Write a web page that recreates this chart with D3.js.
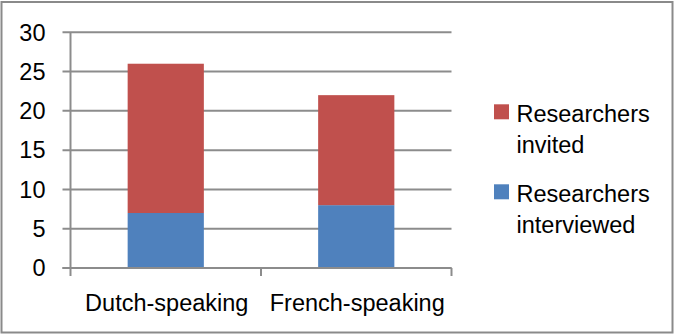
<!DOCTYPE html>
<html>
<head>
<meta charset="utf-8">
<script src="https://cdn.jsdelivr.net/npm/d3@7"></script>
<style>
  html, body { margin: 0; padding: 0; background: #fff; }
  svg { display: block; }
  text { font-family: "Liberation Sans", Arial, sans-serif; fill: #000; }
</style>
</head>
<body>
<svg id="chart" width="674" height="334"></svg>
<script>
// ---- data ----
const categories = ["Dutch-speaking", "French-speaking"];
const interviewed = [7, 8];
const invitedExtra = [19, 14];   // stacked on top of interviewed (totals 26, 22)
const seriesNames = ["Researchers interviewed", "Researchers invited"];
const seriesColors = ["#4F81BD", "#C0504D"];
const yTicks = [0, 5, 10, 15, 20, 25, 30];

// ---- layout ----
const svg = d3.select("#chart");
const plot = { left: 70.5, right: 451.5, top: 32.3, bottom: 268 };
const fontSize = 23.5;
const gridColor = "#8c8c8c";

// outer border
svg.append("rect")
  .attr("x", 1.5).attr("y", 2).attr("width", 671).attr("height", 330.5)
  .attr("fill", "#fff").attr("stroke", "#8a8a8a").attr("stroke-width", 2);

const x = d3.scaleBand()
  .domain(categories)
  .range([plot.left, plot.right])
  .paddingInner(0.6).paddingOuter(0.3);
const xCat = d3.scaleBand().domain(categories).range([plot.left, plot.right]);

const y = d3.scaleLinear().domain([0, 30]).range([plot.bottom, plot.top]);

// gridlines
svg.append("g").selectAll("line").data(yTicks).join("line")
  .attr("x1", plot.left - 8).attr("x2", plot.right)
  .attr("y1", d => y(d)).attr("y2", d => y(d))
  .attr("stroke", gridColor).attr("stroke-width", 2);

// vertical axis line
svg.append("line")
  .attr("x1", plot.left).attr("x2", plot.left)
  .attr("y1", y(30)).attr("y2", y(0))
  .attr("stroke", gridColor).attr("stroke-width", 2);

// category boundary ticks
const bounds = [xCat(categories[0]), xCat(categories[1]), xCat(categories[1]) + xCat.bandwidth()];
svg.append("g").selectAll("line").data(bounds).join("line")
  .attr("x1", d => d).attr("x2", d => d)
  .attr("y1", y(0)).attr("y2", y(0) + 8)
  .attr("stroke", gridColor).attr("stroke-width", 2);

// y tick labels
svg.append("g").selectAll("text").data(yTicks).join("text")
  .attr("x", 45.5).attr("y", d => y(d) + 8.3)
  .attr("text-anchor", "end")
  .attr("font-size", fontSize)
  .text(d => d);

// stacked bars
const rows = categories.map((c, i) => ({ cat: c, interviewed: interviewed[i], invited: invitedExtra[i] }));
const stack = d3.stack().keys(["interviewed", "invited"])(rows);
svg.append("g").selectAll("g").data(stack).join("g")
  .attr("fill", (d, i) => seriesColors[i])
  .selectAll("rect").data(d => d).join("rect")
  .attr("x", d => x(d.data.cat))
  .attr("width", x.bandwidth())
  .attr("y", d => y(d[1]))
  .attr("height", d => y(d[0]) - y(d[1]));

// zero line on top of bars
svg.append("line")
  .attr("x1", plot.left - 8).attr("x2", plot.right)
  .attr("y1", y(0)).attr("y2", y(0))
  .attr("stroke", gridColor).attr("stroke-width", 2);

// category labels
svg.append("g").selectAll("text").data(categories).join("text")
  .attr("x", d => xCat(d) + xCat.bandwidth() / 2 + 1)
  .attr("y", 310.5)
  .attr("text-anchor", "middle")
  .attr("font-size", fontSize)
  .text(d => d);

// legend (invited on top, interviewed below)
const legendItems = [
  { lines: ["Researchers", "invited"], color: seriesColors[1], top: 104.3 },
  { lines: ["Researchers", "interviewed"], color: seriesColors[0], top: 184.3 }
];
const lg = svg.append("g").selectAll("g").data(legendItems).join("g");
lg.append("rect")
  .attr("x", 494).attr("y", d => d.top)
  .attr("width", 15).attr("height", 15)
  .attr("fill", d => d.color);
lg.each(function(d) {
  const g = d3.select(this);
  d.lines.forEach((t, j) => {
    g.append("text")
      .attr("x", 516.5)
      .attr("y", d.top + 17.4 + j * 31)
      .attr("font-size", fontSize)
      .text(t);
  });
});
</script>
</body>
</html>
